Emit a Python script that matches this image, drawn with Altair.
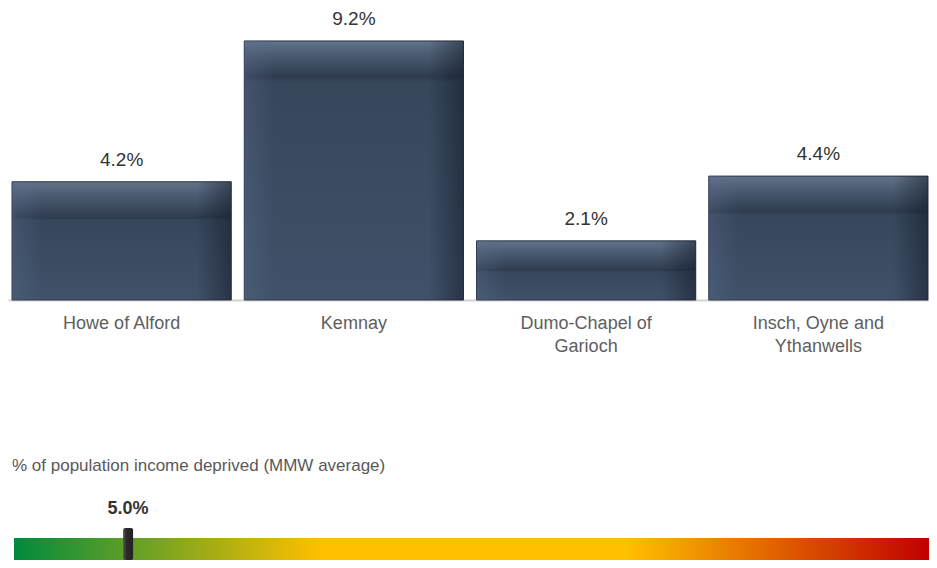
import altair as alt
import pandas as pd

# ---- data ----
areas = ["Howe of Alford", "Kemnay", "Dumo-Chapel of Garioch", "Insch, Oyne and Ythanwells"]
area_label_lines = [["Howe of Alford"], ["Kemnay"], ["Dumo-Chapel of", "Garioch"], ["Insch, Oyne and", "Ythanwells"]]
values = [4.2, 9.2, 2.1, 4.4]
value_labels = ["4.2%", "9.2%", "2.1%", "4.4%"]

gauge_title = ["% of population income deprived (MMW average)"]
mmw_value = [5.0]
mmw_label = ["5.0%"]
gauge_range = [0.0, 40.1]

FONT = "Liberation Sans"
W = 921

bars_df = pd.DataFrame({"area": areas, "value": values, "label": value_labels})

# label expression for wrapped axis labels
expr = "datum.label"
for name, lines in zip(areas[::-1], area_label_lines[::-1]):
    arr = "[" + ",".join("'" + l.replace("'", "\\'") + "'" for l in lines) + "]"
    expr = f"datum.label == '{name}' ? {arr} : ({expr})"

x_enc = alt.X(
    "area:N", sort=areas,
    scale=alt.Scale(paddingInner=0.056, paddingOuter=0.0108, align=0.8),
    axis=alt.Axis(title=None, labelAngle=0, ticks=False, domainColor="#d4d4d4",
                  domainWidth=2, labelFontSize=18, labelColor="#5e5e5e", labelFont=FONT,
                  labelPadding=14, labelLineHeight=23, labelExpr=expr, labelLimit=300),
)
y_enc = alt.Y("value:Q", scale=alt.Scale(domain=[0, 10.37]), axis=None)

BEVEL_PX = 36
PX_PER_UNIT = 292 / 10.37

layers = []
for a, v in zip(areas, values):
    h = v * PX_PER_UNIT
    d = min(BEVEL_PX / h, 0.5)
    grad = alt.Gradient(
        gradient="linear", x1=0, x2=0, y1=0, y2=1,
        stops=[
            alt.GradientStop(color="#627289", offset=0),
            alt.GradientStop(color="#4d5d73", offset=d * 0.35),
            alt.GradientStop(color="#2e3b4f", offset=d),
            alt.GradientStop(color="#36465b", offset=min(d + 0.02, 0.99)),
            alt.GradientStop(color="#415169", offset=1),
        ],
    )
    layers.append(
        alt.Chart(bars_df).transform_filter(alt.datum.area == a)
        .mark_bar(color=grad, stroke="#2a3545", strokeWidth=1)
        .encode(x=x_enc, y=y_enc)
    )

side = alt.Gradient(
    gradient="linear", x1=0, x2=1, y1=0, y2=0,
    stops=[
        alt.GradientStop(color="rgba(90,110,140,0.35)", offset=0),
        alt.GradientStop(color="rgba(90,110,140,0.0)", offset=0.14),
        alt.GradientStop(color="rgba(10,18,30,0.0)", offset=0.84),
        alt.GradientStop(color="rgba(10,18,30,0.45)", offset=1),
    ],
)
overlay = alt.Chart(bars_df).mark_bar(color=side).encode(x=x_enc, y=y_enc)

value_text = alt.Chart(bars_df).mark_text(
    dy=-22, fontSize=19, color="#333333", font=FONT
).encode(x=x_enc, y=y_enc, text="label:N")

top = alt.layer(*layers, overlay, value_text).properties(width=W, height=292)

# ---- gauge ----
gauge_df = pd.DataFrame({"start": [gauge_range[0]], "end": [gauge_range[1]]})
gx = alt.Scale(domain=gauge_range, range=[6, W])
ggrad = alt.Gradient(
    gradient="linear", x1=0, x2=1, y1=0, y2=0,
    stops=[
        alt.GradientStop(color="#008a3e", offset=0),
        alt.GradientStop(color="#ffc000", offset=0.335),
        alt.GradientStop(color="#ffc000", offset=0.67),
        alt.GradientStop(color="#c00000", offset=1),
    ],
)
gauge_bar = alt.Chart(gauge_df).mark_rect(color=ggrad).encode(
    x=alt.X("start:Q", scale=gx, axis=None), x2="end:Q",
    y=alt.value(82), y2=alt.value(104),
)

marker_df = pd.DataFrame({"v": mmw_value, "label": mmw_label})
mgrad = alt.Gradient(
    gradient="linear", x1=0, x2=1, y1=0, y2=0,
    stops=[
        alt.GradientStop(color="#555555", offset=0),
        alt.GradientStop(color="#2a2a2a", offset=0.35),
        alt.GradientStop(color="#222222", offset=1),
    ],
)
marker = alt.Chart(marker_df).mark_tick(
    thickness=10, size=32, cornerRadius=2, color=mgrad, opacity=1
).encode(x=alt.X("v:Q", scale=gx, axis=None), y=alt.value(88))

marker_text = alt.Chart(marker_df).mark_text(
    fontSize=18, fontWeight="bold", color="#333333", font=FONT
).encode(x=alt.X("v:Q", scale=gx, axis=None), y=alt.value(53), text="label:N")

title_df = pd.DataFrame({"t": gauge_title})
title_text = alt.Chart(title_df).mark_text(
    align="left", fontSize=17, color="#595959", font=FONT
).encode(x=alt.value(4), y=alt.value(10), text="t:N")

bottom = alt.layer(gauge_bar, marker, marker_text, title_text).properties(width=W, height=104)

chart = alt.vconcat(top, bottom, spacing=101).properties(
    padding={"left": 0, "top": 0, "right": 0, "bottom": 0}, background="white"
).configure_view(stroke=None)

chart.save("out.html", embed_options={"renderer": "svg", "actions": False})
